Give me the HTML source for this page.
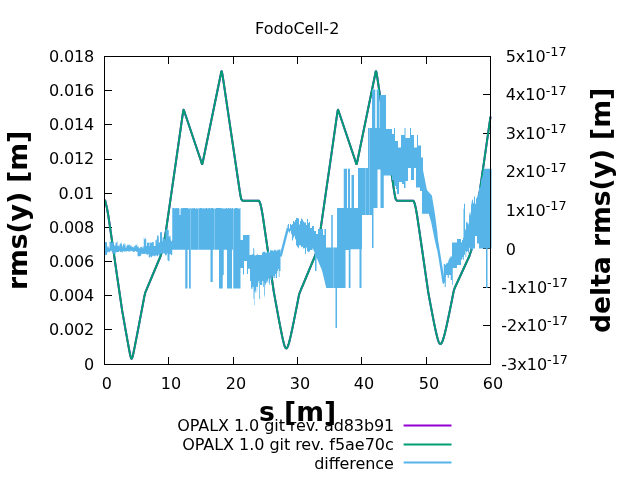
<!DOCTYPE html>
<html><head><meta charset="utf-8"><title>FodoCell-2</title>
<style>html,body{margin:0;padding:0;background:#fff;width:640px;height:480px;overflow:hidden}svg{display:block;will-change:transform}</style>
</head><body>
<svg width="640" height="480" viewBox="0 0 640 480">
<rect width="640" height="480" fill="#fff"/>
<path d="M168.5,364.5 V357.0 M168.5,56.5 V64.0 M233.5,364.5 V357.0 M233.5,56.5 V64.0 M297.5,364.5 V357.0 M297.5,56.5 V64.0 M361.5,364.5 V357.0 M361.5,56.5 V64.0 M426.5,364.5 V357.0 M426.5,56.5 V64.0 M104.5,329.5 H112.0 M104.5,295.5 H112.0 M104.5,261.5 H112.0 M104.5,227.5 H112.0 M104.5,193.5 H112.0 M104.5,159.5 H112.0 M104.5,124.5 H112.0 M104.5,90.5 H112.0 M490.5,325.5 H483.0 M490.5,287.5 H483.0 M490.5,248.5 H483.0 M490.5,210.5 H483.0 M490.5,171.5 H483.0 M490.5,133.5 H483.0 M490.5,94.5 H483.0" stroke="#000" stroke-width="1" fill="none" stroke-linecap="butt"/>
<g fill="none" stroke-width="2" stroke-linejoin="round" stroke-linecap="butt">
<path d="M105.00,199.80 L105.80,203.20 L106.90,207.80 L108.30,215.50 L109.70,225.00 L113.80,253.00 L117.30,277.50 L122.25,311.13 L122.65,313.39 L123.05,315.66 L123.45,317.92 L123.85,320.18 L124.25,322.44 L124.65,324.70 L125.05,326.96 L125.45,329.21 L125.85,331.46 L126.25,333.70 L126.65,335.94 L127.05,338.17 L127.45,340.39 L127.85,342.60 L128.25,344.79 L128.65,346.96 L129.05,349.10 L129.45,351.19 L129.85,353.21 L130.25,355.11 L130.65,356.79 L131.05,358.10 L131.45,358.77 L131.56,358.80 L131.96,358.42 L132.36,357.40 L132.76,355.96 L133.16,354.28 L133.56,352.46 L133.96,350.56 L134.36,348.60 L134.76,346.61 L135.16,344.59 L135.56,342.55 L135.96,340.49 L136.36,338.43 L136.76,336.36 L137.16,334.28 L137.56,332.19 L137.96,330.10 L138.36,328.01 L138.76,325.92 L139.16,323.82 L139.56,321.72 L139.96,319.62 L140.36,317.51 L140.76,315.41 L141.16,313.30 L141.56,311.19 L141.96,309.09 L142.36,306.98 L142.76,304.87 L143.16,302.76 L143.56,300.65 L143.96,298.53 L144.36,296.42 L145.26,292.72 L160.60,256.00 L162.40,250.50 L163.80,244.00 L165.00,237.50 L171.90,189.70 L176.25,159.60 L182.60,115.20 L183.10,111.90 L183.35,110.30 L183.60,109.70 L183.90,110.20 L184.30,111.40 L185.00,113.50 L201.10,161.30 L201.65,163.20 L202.00,164.10 L202.30,164.00 L202.65,162.60 L203.00,161.00 L220.65,75.00 L221.05,72.80 L221.35,71.50 L221.65,71.20 L221.95,72.00 L222.30,73.90 L222.70,76.20 L238.10,180.00 L239.50,189.50 L240.60,196.30 L241.40,199.40 L242.50,200.70 L259.00,200.70 L260.20,203.20 L261.30,207.80 L262.70,215.50 L264.10,225.00 L268.20,253.00 L271.70,277.50 L273.80,291.73 L274.20,293.95 L274.60,296.17 L275.00,298.38 L275.40,300.59 L275.80,302.80 L276.20,305.00 L276.60,307.19 L277.00,309.37 L277.40,311.55 L277.80,313.72 L278.20,315.87 L278.60,318.02 L279.00,320.15 L279.40,322.27 L279.80,324.36 L280.20,326.44 L280.60,328.49 L281.00,330.52 L281.40,332.51 L281.80,334.46 L282.20,336.36 L282.60,338.19 L283.00,339.96 L283.40,341.63 L283.80,343.19 L284.20,344.61 L284.60,345.85 L285.00,346.89 L285.40,347.69 L285.80,348.20 L286.20,348.40 L286.25,348.40 L286.65,348.26 L287.05,347.85 L287.45,347.19 L287.85,346.30 L288.25,345.22 L288.65,343.98 L289.05,342.60 L289.45,341.12 L289.85,339.53 L290.25,337.88 L290.65,336.16 L291.05,334.39 L291.45,332.58 L291.85,330.73 L292.25,328.86 L292.65,326.95 L293.05,325.03 L293.45,323.08 L293.85,321.12 L294.25,319.15 L294.65,317.16 L295.05,315.16 L295.45,313.15 L295.85,311.13 L296.25,309.11 L296.65,307.08 L297.05,305.04 L297.45,303.00 L297.85,300.95 L298.25,298.89 L298.65,296.84 L299.05,294.78 L299.95,292.02 L315.00,256.00 L316.80,250.50 L318.20,244.00 L319.40,237.50 L326.30,189.70 L330.65,159.60 L337.00,115.20 L337.50,111.90 L337.75,110.30 L338.00,109.70 L338.30,110.20 L338.70,111.40 L339.40,113.50 L355.50,161.30 L356.05,163.20 L356.40,164.10 L356.70,164.00 L357.05,162.60 L357.40,161.00 L375.05,75.00 L375.45,72.80 L375.75,71.50 L376.05,71.20 L376.35,72.00 L376.70,73.90 L377.10,76.20 L392.50,180.00 L393.90,189.50 L395.00,196.30 L395.80,199.40 L396.90,200.70 L413.40,200.70 L414.60,203.20 L415.70,207.80 L417.10,215.50 L418.50,225.00 L422.60,253.00 L426.10,277.50 L428.40,293.09 L428.80,295.27 L429.20,297.45 L429.60,299.62 L430.00,301.78 L430.40,303.93 L430.80,306.07 L431.20,308.20 L431.60,310.31 L432.00,312.42 L432.40,314.50 L432.80,316.57 L433.20,318.62 L433.60,320.65 L434.00,322.65 L434.40,324.63 L434.80,326.56 L435.20,328.46 L435.60,330.31 L436.00,332.11 L436.40,333.84 L436.80,335.49 L437.20,337.06 L437.60,338.52 L438.00,339.85 L438.40,341.04 L438.80,342.06 L439.20,342.89 L439.60,343.50 L440.00,343.87 L440.40,344.00 L440.40,344.00 L440.80,343.89 L441.20,343.57 L441.60,343.04 L442.00,342.32 L442.40,341.42 L442.80,340.37 L443.20,339.19 L443.60,337.89 L444.00,336.49 L444.40,335.01 L444.80,333.45 L445.20,331.83 L445.60,330.15 L446.00,328.43 L446.40,326.66 L446.80,324.87 L447.20,323.04 L447.60,321.18 L448.00,319.30 L448.40,317.40 L448.80,315.49 L449.20,313.55 L449.60,311.61 L450.00,309.65 L450.40,307.67 L450.80,305.69 L451.20,303.70 L451.60,301.70 L452.00,299.69 L452.40,297.68 L452.80,295.66 L453.20,293.63 L453.60,291.60 L454.50,288.49 L469.40,256.00 L471.20,250.50 L472.60,244.00 L473.80,237.50 L480.00,189.70 L484.35,159.60 L490.50,116.60" stroke="#9400d3"/>
<path d="M105.00,199.80 L105.80,203.20 L106.90,207.80 L108.30,215.50 L109.70,225.00 L113.80,253.00 L117.30,277.50 L122.25,311.13 L122.65,313.39 L123.05,315.66 L123.45,317.92 L123.85,320.18 L124.25,322.44 L124.65,324.70 L125.05,326.96 L125.45,329.21 L125.85,331.46 L126.25,333.70 L126.65,335.94 L127.05,338.17 L127.45,340.39 L127.85,342.60 L128.25,344.79 L128.65,346.96 L129.05,349.10 L129.45,351.19 L129.85,353.21 L130.25,355.11 L130.65,356.79 L131.05,358.10 L131.45,358.77 L131.56,358.80 L131.96,358.42 L132.36,357.40 L132.76,355.96 L133.16,354.28 L133.56,352.46 L133.96,350.56 L134.36,348.60 L134.76,346.61 L135.16,344.59 L135.56,342.55 L135.96,340.49 L136.36,338.43 L136.76,336.36 L137.16,334.28 L137.56,332.19 L137.96,330.10 L138.36,328.01 L138.76,325.92 L139.16,323.82 L139.56,321.72 L139.96,319.62 L140.36,317.51 L140.76,315.41 L141.16,313.30 L141.56,311.19 L141.96,309.09 L142.36,306.98 L142.76,304.87 L143.16,302.76 L143.56,300.65 L143.96,298.53 L144.36,296.42 L145.26,292.72 L160.60,256.00 L162.40,250.50 L163.80,244.00 L165.00,237.50 L171.90,189.70 L176.25,159.60 L182.60,115.20 L183.10,111.90 L183.35,110.30 L183.60,109.70 L183.90,110.20 L184.30,111.40 L185.00,113.50 L201.10,161.30 L201.65,163.20 L202.00,164.10 L202.30,164.00 L202.65,162.60 L203.00,161.00 L220.65,75.00 L221.05,72.80 L221.35,71.50 L221.65,71.20 L221.95,72.00 L222.30,73.90 L222.70,76.20 L238.10,180.00 L239.50,189.50 L240.60,196.30 L241.40,199.40 L242.50,200.70 L259.00,200.70 L260.20,203.20 L261.30,207.80 L262.70,215.50 L264.10,225.00 L268.20,253.00 L271.70,277.50 L273.80,291.73 L274.20,293.95 L274.60,296.17 L275.00,298.38 L275.40,300.59 L275.80,302.80 L276.20,305.00 L276.60,307.19 L277.00,309.37 L277.40,311.55 L277.80,313.72 L278.20,315.87 L278.60,318.02 L279.00,320.15 L279.40,322.27 L279.80,324.36 L280.20,326.44 L280.60,328.49 L281.00,330.52 L281.40,332.51 L281.80,334.46 L282.20,336.36 L282.60,338.19 L283.00,339.96 L283.40,341.63 L283.80,343.19 L284.20,344.61 L284.60,345.85 L285.00,346.89 L285.40,347.69 L285.80,348.20 L286.20,348.40 L286.25,348.40 L286.65,348.26 L287.05,347.85 L287.45,347.19 L287.85,346.30 L288.25,345.22 L288.65,343.98 L289.05,342.60 L289.45,341.12 L289.85,339.53 L290.25,337.88 L290.65,336.16 L291.05,334.39 L291.45,332.58 L291.85,330.73 L292.25,328.86 L292.65,326.95 L293.05,325.03 L293.45,323.08 L293.85,321.12 L294.25,319.15 L294.65,317.16 L295.05,315.16 L295.45,313.15 L295.85,311.13 L296.25,309.11 L296.65,307.08 L297.05,305.04 L297.45,303.00 L297.85,300.95 L298.25,298.89 L298.65,296.84 L299.05,294.78 L299.95,292.02 L315.00,256.00 L316.80,250.50 L318.20,244.00 L319.40,237.50 L326.30,189.70 L330.65,159.60 L337.00,115.20 L337.50,111.90 L337.75,110.30 L338.00,109.70 L338.30,110.20 L338.70,111.40 L339.40,113.50 L355.50,161.30 L356.05,163.20 L356.40,164.10 L356.70,164.00 L357.05,162.60 L357.40,161.00 L375.05,75.00 L375.45,72.80 L375.75,71.50 L376.05,71.20 L376.35,72.00 L376.70,73.90 L377.10,76.20 L392.50,180.00 L393.90,189.50 L395.00,196.30 L395.80,199.40 L396.90,200.70 L413.40,200.70 L414.60,203.20 L415.70,207.80 L417.10,215.50 L418.50,225.00 L422.60,253.00 L426.10,277.50 L428.40,293.09 L428.80,295.27 L429.20,297.45 L429.60,299.62 L430.00,301.78 L430.40,303.93 L430.80,306.07 L431.20,308.20 L431.60,310.31 L432.00,312.42 L432.40,314.50 L432.80,316.57 L433.20,318.62 L433.60,320.65 L434.00,322.65 L434.40,324.63 L434.80,326.56 L435.20,328.46 L435.60,330.31 L436.00,332.11 L436.40,333.84 L436.80,335.49 L437.20,337.06 L437.60,338.52 L438.00,339.85 L438.40,341.04 L438.80,342.06 L439.20,342.89 L439.60,343.50 L440.00,343.87 L440.40,344.00 L440.40,344.00 L440.80,343.89 L441.20,343.57 L441.60,343.04 L442.00,342.32 L442.40,341.42 L442.80,340.37 L443.20,339.19 L443.60,337.89 L444.00,336.49 L444.40,335.01 L444.80,333.45 L445.20,331.83 L445.60,330.15 L446.00,328.43 L446.40,326.66 L446.80,324.87 L447.20,323.04 L447.60,321.18 L448.00,319.30 L448.40,317.40 L448.80,315.49 L449.20,313.55 L449.60,311.61 L450.00,309.65 L450.40,307.67 L450.80,305.69 L451.20,303.70 L451.60,301.70 L452.00,299.69 L452.40,297.68 L452.80,295.66 L453.20,293.63 L453.60,291.60 L454.50,288.49 L469.40,256.00 L471.20,250.50 L472.60,244.00 L473.80,237.50 L480.00,189.70 L484.35,159.60 L490.50,116.60" stroke="#009e73"/>
</g>
<path d="M104.50,241.90 H106.50 V242.50 H107.00 V247.60 H107.25 V246.40 H108.75 V248.20 H109.50 V241.30 H110.25 V241.90 H111.00 V243.10 H111.75 V241.30 H112.50 V243.10 H113.25 V241.90 H113.75 V246.00 H114.00 V245.40 H115.50 V242.50 H117.00 V241.30 H117.50 V245.40 H117.75 V246.00 H118.50 V245.40 H119.25 V247.20 H119.50 V244.30 H120.00 V243.70 H120.75 V242.50 H121.50 V244.30 H122.00 V247.70 H122.25 V245.90 H123.00 V243.75 H123.75 V244.95 H124.50 V243.15 H125.25 V244.95 H125.50 V247.70 H126.25 V246.20 H126.75 V245.60 H127.50 V244.40 H128.25 V245.00 H129.00 V244.40 H129.75 V246.20 H130.50 V245.00 H131.25 V246.50 H132.00 V247.10 H132.75 V246.50 H133.50 V247.70 H134.25 V245.90 H135.00 V245.60 H135.75 V244.40 H136.50 V245.60 H137.25 V244.40 H137.50 V247.00 H138.00 V246.40 H138.75 V248.20 H140.25 V247.00 H141.75 V246.40 H142.50 V248.20 H143.25 V246.40 H143.75 V237.50 H144.00 V239.30 H144.75 V237.50 H145.50 V239.30 H146.25 V246.00 H147.00 V242.50 H147.75 V243.10 H148.50 V242.50 H149.25 V241.90 H149.50 V246.00 H150.00 V242.50 H150.75 V243.10 H151.50 V242.50 H152.25 V241.90 H153.75 V246.00 H155.50 V240.00 H156.00 V239.40 H156.75 V241.20 H157.00 V236.20 H157.50 V235.00 H158.25 V236.20 H158.75 V243.20 H159.00 V242.60 H159.75 V242.00 H160.00 V231.90 H160.50 V232.50 H161.25 V231.90 H162.00 V241.20 H162.50 V238.70 H162.75 V236.90 H164.25 V238.70 H165.00 V240.60 H165.50 V230.00 H165.75 V229.40 H168.00 V230.00 H168.75 V236.85 H169.50 V235.65 H170.50 V239.40 H171.00 V241.20 H172.00 V240.00 H172.25 V208.10 H174.50 V208.60 H175.00 V208.10 H175.50 V208.60 H176.00 V208.10 H177.00 V208.60 H177.50 V208.10 H179.00 V208.60 H179.50 V215.00 H180.50 V209.00 H181.00 V208.10 H182.00 V208.60 H182.50 V208.10 H188.50 V209.00 H189.00 V208.10 H189.50 V209.00 H190.00 V208.10 H190.50 V288.50 H190.75 V208.10 H191.00 V209.00 H191.50 V208.10 H192.00 V208.60 H192.50 V208.10 H193.50 V208.60 H194.00 V208.10 H195.00 V209.00 H195.50 V208.60 H196.00 V208.10 H196.50 V208.60 H197.00 V208.10 H197.50 V209.00 H198.00 V208.10 H198.50 V209.00 H198.75 V249.75 H199.00 V208.10 H199.50 V208.60 H200.00 V208.10 H202.00 V208.60 H203.50 V208.10 H204.00 V209.00 H204.50 V208.10 H205.00 V208.60 H205.50 V208.10 H207.00 V209.00 H207.50 V208.10 H208.50 V208.60 H209.00 V208.10 H210.00 V209.00 H210.50 V208.10 H213.50 V209.00 H214.00 V208.60 H214.50 V249.75 H214.75 V208.10 H215.50 V209.00 H216.00 V208.10 H221.50 V208.60 H222.50 V208.10 H223.50 V209.00 H224.00 V208.10 H224.50 V209.00 H225.00 V208.10 H225.50 V209.00 H226.00 V208.10 H227.00 V209.00 H227.50 V208.10 H229.50 V209.00 H230.00 V208.10 H231.00 V209.00 H231.50 V208.10 H233.00 V209.00 H233.50 V288.50 H233.75 V208.10 H234.00 V209.00 H234.50 V208.10 H237.00 V208.60 H237.50 V208.10 H238.00 V209.00 H238.50 V208.10 H239.00 V208.60 H240.00 V208.10 H240.50 V240.00 H243.00 V235.00 H249.50 V255.00 H251.75 V254.20 H253.25 V247.95 H254.00 V248.75 H254.25 V255.00 H254.75 V255.80 H255.50 V255.00 H257.00 V254.20 H257.75 V255.00 H262.00 V252.00 H262.25 V252.80 H263.00 V252.00 H263.75 V251.20 H264.50 V252.00 H265.25 V252.80 H266.75 V252.00 H268.25 V251.20 H269.00 V252.80 H269.75 V252.00 H270.00 V250.50 H270.50 V249.70 H271.25 V250.50 H273.50 V251.30 H274.25 V249.70 H275.75 V250.50 H276.50 V251.30 H277.25 V249.70 H278.75 V250.50 H279.00 V249.40 H280.50 V250.00 H287.50 V225.00 H288.00 V224.00 H289.00 V228.50 H290.00 V224.00 H291.00 V225.00 H292.00 V224.00 H293.00 V221.00 H294.00 V222.00 H295.00 V220.00 H296.00 V218.00 H298.00 V218.50 H299.00 V224.50 H300.00 V221.00 H301.00 V218.50 H302.00 V219.40 H303.00 V221.40 H304.00 V222.50 H306.00 V225.00 H307.00 V219.00 H308.00 V223.00 H309.00 V222.00 H310.00 V228.00 H312.00 V226.00 H314.00 V231.00 H316.00 V234.00 H318.00 V229.00 H323.00 V235.00 H324.50 V229.00 H326.00 V247.50 H331.25 V215.00 H332.75 V247.50 H333.00 V288.00 H333.25 V247.50 H337.00 V208.00 H343.75 V168.75 H347.00 V208.00 H348.00 V168.75 H350.00 V208.00 H351.50 V175.00 H354.00 V208.00 H358.00 V168.00 H365.00 V215.00 H365.25 V168.00 H368.00 V128.00 H369.50 V215.00 H369.75 V128.00 H372.00 V89.40 H375.25 V128.00 H376.75 V89.40 H379.00 V128.00 H379.50 V95.00 H386.00 V129.00 H392.00 V134.00 H394.00 V128.00 H395.00 V141.00 H398.00 V147.50 H401.00 V135.00 H404.50 V128.00 H405.50 V138.00 H410.00 V128.00 H411.00 V135.00 H414.00 V147.50 H417.00 V135.00 H418.00 V145.60 H421.00 V157.50 H423.00 V170.64 H423.25 V171.92 H423.50 V173.21 H423.75 V174.49 H424.00 V175.77 H424.25 V177.05 H424.50 V178.33 H424.75 V179.62 H425.00 V180.90 H425.25 V182.18 H425.50 V183.46 H425.75 V184.74 H426.00 V186.03 H426.25 V187.31 H426.50 V188.59 H426.75 V189.87 H427.00 V190.25 H427.25 V190.53 H427.50 V190.81 H427.75 V191.09 H428.00 V191.37 H428.25 V191.65 H428.50 V191.93 H428.75 V192.21 H429.00 V192.49 H429.25 V192.77 H429.50 V193.05 H429.75 V193.33 H430.00 V193.61 H430.25 V193.89 H430.50 V194.17 H430.75 V194.45 H431.00 V194.73 H431.25 V195.01 H431.50 V195.29 H431.75 V195.57 H432.00 V196.96 H432.25 V198.48 H432.50 V200.00 H432.75 V201.51 H433.00 V203.03 H433.25 V204.55 H433.50 V206.06 H433.75 V207.58 H434.00 V209.09 H434.25 V210.61 H434.50 V212.13 H434.75 V213.64 H435.00 V215.37 H435.25 V217.30 H435.50 V219.24 H435.75 V221.17 H436.00 V223.11 H436.25 V225.04 H436.50 V226.98 H436.75 V228.91 H437.00 V230.85 H437.25 V232.78 H437.50 V270.00 H443.75 V264.00 H445.25 V265.00 H446.00 V263.77 H446.25 V263.31 H446.50 V262.85 H446.75 V263.40 H447.00 V262.94 H447.25 V262.48 H447.50 V263.52 H447.75 V263.06 H448.00 V262.60 H448.25 V260.65 H448.50 V260.19 H448.75 V259.73 H449.00 V259.27 H449.25 V258.81 H449.50 V258.35 H449.75 V256.90 H450.00 V256.44 H450.25 V255.98 H450.50 V258.02 H450.75 V257.56 H451.00 V257.10 H451.25 V256.65 H451.50 V256.19 H451.75 V255.73 H452.00 V242.50 H457.00 V239.00 H461.00 V242.46 H461.25 V242.37 H461.50 V242.28 H461.75 V242.20 H462.00 V240.11 H462.25 V240.03 H462.50 V239.94 H462.75 V239.85 H463.00 V237.77 H463.25 V237.68 H463.50 V208.75 H464.00 V203.75 H465.00 V230.46 H465.25 V229.87 H465.50 V229.27 H465.75 V228.68 H466.00 V223.08 H466.25 V222.49 H466.50 V221.89 H466.75 V221.30 H467.00 V223.66 H467.25 V222.97 H467.50 V222.28 H467.75 V221.59 H468.00 V224.91 H468.25 V224.22 H468.50 V223.53 H468.75 V222.84 H469.00 V215.16 H469.25 V214.47 H469.50 V213.21 H469.75 V211.88 H470.00 V215.55 H470.25 V214.22 H470.50 V212.90 H470.75 V211.57 H471.00 V205.24 H471.25 V203.92 H471.50 V202.59 H471.75 V201.26 H472.00 V200.39 H472.25 V199.98 H472.50 V199.57 H472.75 V199.15 H473.00 V203.74 H473.25 V203.33 H473.50 V202.91 H473.75 V202.50 H474.00 V197.09 H474.25 V196.67 H474.50 V196.26 H474.75 V195.85 H475.00 V204.43 H475.25 V204.02 H475.50 V203.60 H475.75 V203.19 H476.00 V198.78 H476.25 V198.36 H476.50 V197.95 H476.75 V197.54 H477.00 V197.12 H477.25 V196.26 H477.50 V195.21 H477.75 V194.15 H478.00 V194.60 H478.25 V193.54 H478.50 V192.49 H478.75 V191.43 H479.00 V188.88 H479.25 V187.82 H479.50 V186.77 H479.75 V185.71 H480.00 V187.66 H480.25 V186.61 H480.50 V185.55 H480.75 V184.50 H481.00 V180.44 H481.25 V179.39 H481.50 V178.33 H481.75 V177.28 H482.00 V177.72 H482.25 V176.67 H482.50 V175.61 H482.75 V174.56 H483.00 V172.00 H483.25 V170.95 H483.50 V168.75 H491.50 V248.50 H487.50 V288.00 H486.00 V248.50 H479.00 V243.50 H477.00 V236.00 H475.00 V248.50 H473.00 V250.75 H471.50 V248.75 H470.00 V247.75 H469.25 V250.75 H469.00 V254.00 H468.50 V252.00 H467.75 V251.00 H467.00 V252.00 H466.25 V257.00 H465.50 V251.00 H465.00 V254.00 H464.75 V255.00 H464.00 V260.00 H463.25 V257.00 H462.50 V259.00 H461.75 V260.00 H461.00 V265.00 H457.00 V268.00 H452.75 V285.00 H452.00 V280.00 H450.75 V275.00 H448.75 V278.00 H447.75 V275.00 H446.00 V277.00 H445.75 V287.00 H444.75 V282.00 H443.75 V270.00 H437.50 V251.46 H437.25 V250.37 H437.00 V249.28 H436.75 V248.19 H436.50 V247.10 H436.25 V246.01 H436.00 V244.92 H435.75 V243.83 H435.50 V242.75 H435.25 V241.66 H435.00 V240.57 H434.75 V239.48 H434.50 V238.37 H434.25 V237.10 H434.00 V235.83 H433.75 V234.56 H433.50 V233.29 H433.25 V232.02 H433.00 V230.75 H432.75 V229.48 H432.50 V228.21 H432.25 V226.94 H432.00 V225.67 H431.75 V224.40 H431.50 V223.13 H431.25 V222.06 H431.00 V221.19 H430.75 V220.31 H430.50 V219.44 H430.25 V218.56 H430.00 V217.69 H429.75 V216.81 H429.50 V215.94 H429.25 V215.06 H429.00 V214.19 H428.75 V213.75 H422.00 V191.00 H420.00 V187.50 H416.00 V168.00 H414.00 V180.00 H411.00 V168.00 H408.00 V181.00 H405.50 V188.00 H404.00 V184.00 H402.00 V182.00 H399.00 V194.00 H397.00 V189.00 H396.00 V186.00 H394.00 V180.00 H392.00 V175.60 H383.75 V208.00 H380.50 V169.40 H377.50 V208.00 H373.50 V248.00 H372.00 V215.00 H362.00 V249.00 H361.50 V288.00 H359.50 V249.30 H350.50 V288.00 H348.75 V250.00 H345.50 V288.00 H337.00 V328.00 H335.50 V288.00 H326.25 V287.48 H326.00 V286.45 H325.75 V285.41 H325.50 V284.38 H325.25 V283.34 H325.00 V282.31 H324.75 V281.28 H324.50 V280.24 H324.25 V279.21 H324.00 V278.17 H323.75 V277.14 H323.50 V276.10 H323.25 V275.07 H323.00 V274.03 H322.75 V273.00 H322.50 V271.97 H322.25 V270.93 H322.00 V269.94 H321.75 V269.37 H321.50 V268.79 H321.25 V268.21 H321.00 V267.63 H320.75 V267.06 H320.50 V266.48 H320.25 V265.90 H320.00 V265.33 H319.75 V264.75 H319.50 V264.17 H319.25 V263.60 H319.00 V263.02 H318.75 V262.44 H318.50 V261.87 H318.25 V261.29 H318.00 V260.69 H317.75 V260.08 H317.50 V259.47 H317.25 V258.85 H317.00 V258.24 H316.75 V257.62 H316.50 V271.00 H315.00 V253.33 H314.75 V252.72 H314.50 V252.10 H314.25 V251.49 H314.00 V250.88 H313.75 V250.26 H313.50 V249.65 H313.25 V249.03 H313.00 V248.42 H312.75 V247.81 H312.50 V250.00 H310.00 V251.91 H309.75 V251.74 H309.50 V251.56 H309.25 V251.39 H309.00 V252.21 H308.75 V252.04 H308.50 V251.86 H308.25 V251.69 H308.00 V251.51 H307.75 V251.34 H307.50 V251.16 H307.25 V250.99 H307.00 V247.81 H306.75 V247.64 H306.50 V247.46 H306.25 V247.29 H306.00 V254.11 H305.75 V253.94 H305.50 V253.76 H305.25 V253.59 H305.00 V248.41 H304.75 V248.24 H304.50 V248.06 H304.25 V247.89 H304.00 V248.71 H303.75 V248.54 H303.50 V248.36 H303.25 V248.19 H303.00 V247.01 H302.75 V246.84 H302.50 V246.66 H302.25 V246.49 H302.00 V247.31 H301.75 V247.14 H301.50 V246.96 H301.25 V246.79 H301.00 V245.61 H300.75 V245.44 H300.50 V245.26 H300.25 V245.09 H300.00 V245.84 H299.75 V245.52 H299.50 V245.20 H299.25 V244.88 H299.00 V248.56 H298.75 V248.24 H298.50 V247.92 H298.25 V247.60 H298.00 V247.28 H297.75 V246.96 H297.50 V246.64 H297.25 V246.32 H297.00 V246.00 H296.75 V245.68 H296.50 V245.36 H296.25 V245.04 H296.00 V239.72 H295.75 V239.40 H295.50 V239.08 H295.25 V238.76 H295.00 V236.44 H294.75 V236.12 H294.50 V235.80 H294.25 V235.48 H294.00 V238.16 H293.75 V237.84 H293.50 V237.52 H293.25 V237.20 H293.00 V240.88 H292.75 V240.56 H292.50 V240.24 H292.25 V239.92 H292.00 V234.60 H291.75 V234.28 H291.50 V233.96 H291.25 V233.64 H291.00 V231.32 H290.75 V231.00 H290.50 V230.68 H290.25 V230.36 H290.00 V233.04 H289.75 V232.72 H289.50 V232.40 H289.25 V232.08 H289.00 V231.76 H288.75 V231.44 H288.50 V231.12 H288.25 V230.80 H288.00 V230.48 H287.75 V230.16 H287.50 V250.00 H280.50 V271.00 H279.50 V277.00 H278.75 V269.00 H278.00 V271.00 H277.25 V273.00 H277.00 V278.00 H275.75 V274.00 H275.00 V278.00 H274.25 V276.00 H273.50 V278.00 H272.75 V276.00 H272.00 V280.00 H271.25 V276.00 H270.50 V280.00 H270.00 V282.75 H269.75 V284.75 H269.00 V278.75 H268.25 V282.75 H267.50 V280.75 H266.75 V282.75 H266.00 V285.00 H265.25 V283.00 H264.75 V297.60 H264.50 V295.60 H264.00 V281.00 H263.75 V287.00 H263.00 V281.00 H262.25 V285.00 H260.00 V299.00 H259.25 V281.00 H258.50 V283.00 H258.00 V290.75 H257.75 V286.75 H256.25 V292.75 H255.50 V290.75 H254.75 V292.75 H254.50 V305.00 H254.00 V299.00 H253.50 V286.75 H252.50 V288.75 H251.00 V281.00 H250.00 V268.75 H248.00 V274.00 H247.00 V261.00 H244.00 V274.50 H243.00 V268.00 H240.50 V288.50 H233.00 V249.75 H232.00 V288.50 H227.00 V249.75 H223.75 V275.00 H222.75 V288.50 H219.00 V249.75 H212.75 V281.90 H210.50 V249.75 H191.00 V288.50 H189.00 V249.75 H187.50 V288.50 H185.25 V249.75 H172.25 V255.00 H172.00 V255.60 H171.75 V255.00 H171.00 V254.00 H170.25 V254.60 H169.50 V261.25 H168.75 V260.85 H168.00 V260.25 H167.50 V253.00 H167.25 V253.60 H167.00 V255.20 H166.50 V254.60 H165.75 V255.60 H165.00 V253.75 H164.25 V252.75 H163.50 V253.75 H160.50 V254.35 H160.00 V256.20 H159.75 V255.60 H159.00 V254.60 H158.25 V256.20 H156.75 V255.20 H156.00 V255.60 H155.25 V256.20 H153.75 V255.60 H153.00 V256.20 H152.25 V255.60 H152.00 V257.50 H151.50 V257.10 H150.75 V256.50 H150.00 V257.50 H148.75 V254.40 H148.50 V254.00 H147.75 V255.00 H147.00 V254.40 H146.25 V253.40 H145.50 V254.00 H142.50 V253.40 H141.75 V254.00 H141.25 V255.85 H140.25 V256.25 H137.50 V251.50 H137.25 V252.10 H136.50 V251.50 H135.75 V251.10 H135.00 V251.50 H134.25 V252.10 H133.50 V251.50 H132.00 V251.10 H131.25 V250.50 H130.50 V251.50 H128.25 V251.10 H126.75 V251.50 H126.25 V252.00 H126.00 V251.60 H125.25 V251.00 H124.50 V252.00 H123.75 V251.00 H123.00 V252.60 H122.25 V251.60 H121.50 V252.00 H120.00 V251.00 H119.25 V252.00 H116.25 V252.60 H115.50 V254.40 H114.75 V253.40 H113.25 V254.40 H113.00 V251.80 H111.75 V250.80 H110.25 V251.80 H109.50 V252.40 H108.75 V251.80 H108.00 V252.40 H107.25 V251.80 H107.00 V255.00 H104.50 Z" fill="#56b4e9" stroke="none"/>
<path d="M280.60,256.50 L287.90,228.00" fill="none" stroke="#56b4e9" stroke-width="2.4" stroke-linejoin="round"/>
<path d="M436.30,236.50 L442.50,275.00 L443.60,282.50 L444.60,279.00" fill="none" stroke="#56b4e9" stroke-width="2.4" stroke-linejoin="round"/>
<rect x="104.5" y="56.5" width="386" height="308" fill="none" stroke="#000" stroke-width="1"/>
<g font-family="'DejaVu Sans','Liberation Sans',sans-serif" font-size="16" fill="#000">
<text x="297.2" y="33.7" text-anchor="middle">FodoCell-2</text>
<text x="94.2" y="369.5" text-anchor="end">0</text>
<text x="94.2" y="335.3" text-anchor="end" textLength="45.3">0.002</text>
<text x="94.2" y="301.1" text-anchor="end" textLength="45.3">0.004</text>
<text x="94.2" y="267.0" text-anchor="end" textLength="45.3">0.006</text>
<text x="94.2" y="232.8" text-anchor="end" textLength="45.3">0.008</text>
<text x="94.2" y="198.6" text-anchor="end">0.01</text>
<text x="94.2" y="164.4" text-anchor="end" textLength="45.3">0.012</text>
<text x="94.2" y="130.3" text-anchor="end" textLength="45.3">0.014</text>
<text x="94.2" y="96.1" text-anchor="end" textLength="45.3">0.016</text>
<text x="94.2" y="61.9" text-anchor="end" textLength="45.3">0.018</text>
<text x="106.9" y="388.6" text-anchor="middle">0</text>
<text x="170.9" y="388.6" text-anchor="middle">10</text>
<text x="235.9" y="388.6" text-anchor="middle">20</text>
<text x="299.9" y="388.6" text-anchor="middle">30</text>
<text x="363.9" y="388.6" text-anchor="middle">40</text>
<text x="428.9" y="388.6" text-anchor="middle">50</text>
<text x="492.9" y="388.6" text-anchor="middle">60</text>
<text x="501.3" y="369.5">-3x10<tspan font-size="12.8" dy="-5.8">-17</tspan></text>
<text x="501.3" y="331.1">-2x10<tspan font-size="12.8" dy="-5.8">-17</tspan></text>
<text x="501.3" y="292.6">-1x10<tspan font-size="12.8" dy="-5.8">-17</tspan></text>
<text x="505.7" y="254.8">0</text>
<text x="505.7" y="215.7">1x10<tspan font-size="12.8" dy="-5.8">-17</tspan></text>
<text x="505.7" y="177.3">2x10<tspan font-size="12.8" dy="-5.8">-17</tspan></text>
<text x="505.7" y="138.8">3x10<tspan font-size="12.8" dy="-5.8">-17</tspan></text>
<text x="505.7" y="100.3">4x10<tspan font-size="12.8" dy="-5.8">-17</tspan></text>
<text x="505.7" y="61.9">5x10<tspan font-size="12.8" dy="-5.8">-17</tspan></text>
<text x="394.3" y="431.2" text-anchor="end" textLength="217.0">OPALX 1.0 git rev. ad83b91</text>
<text x="393.7" y="450.3" text-anchor="end" textLength="211.5">OPALX 1.0 git rev. f5ae70c</text>
<text x="393.8" y="469.0" text-anchor="end" textLength="79.5">difference</text>
</g>
<g font-family="'DejaVu Sans','Liberation Sans',sans-serif" font-size="26.67" font-weight="bold" fill="#000">
<text x="297.6" y="421" text-anchor="middle">s [m]</text>
<text transform="translate(27.2,210.45) rotate(-90)" text-anchor="middle" textLength="159.1">rms(y) [m]</text>
<text transform="translate(610,210.43) rotate(-90)" text-anchor="middle" textLength="245.0">delta rms(y) [m]</text>
</g>
<g fill="none" stroke-width="2">
<path d="M403.6,425.5 H451.5" stroke="#9400d3"/>
<path d="M403.6,444.4 H451.5" stroke="#009e73"/>
<path d="M403.6,462.5 H451.5" stroke="#56b4e9"/>
</g>
</svg>
</body></html>
